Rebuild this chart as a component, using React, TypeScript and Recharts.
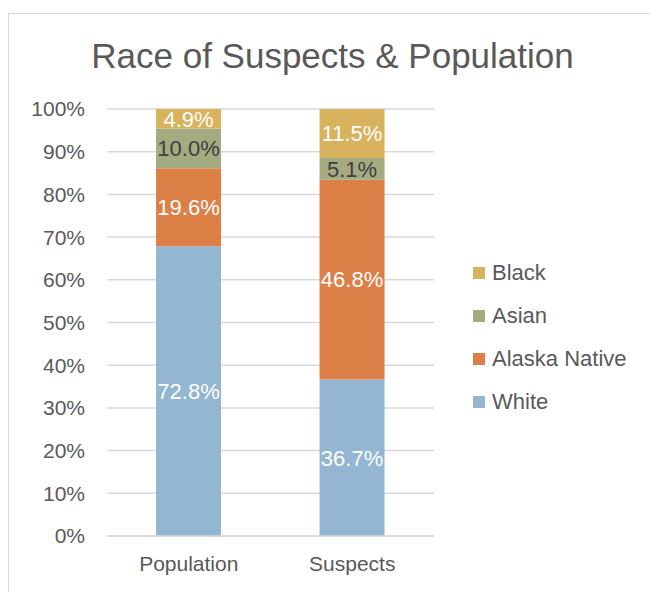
import React from 'react';
import { BarChart, Bar, XAxis, YAxis, CartesianGrid, LabelList } from 'recharts';

const categories = ['Population', 'Suspects'];
const white = [72.8, 36.7];
const alaskaNative = [19.6, 46.8];
const asian = [10.0, 5.1];
const black = [4.9, 11.5];
const yTicks = [0, 0.1, 0.2, 0.3, 0.4, 0.5, 0.6, 0.7, 0.8, 0.9, 1];

const series = [
  { key: 'white', name: 'White', color: '#94B6D2', label: '#FFFFFF' },
  { key: 'alaska', name: 'Alaska Native', color: '#DD8047', label: '#FFFFFF' },
  { key: 'asian', name: 'Asian', color: '#A5AB81', label: '#404040' },
  { key: 'black', name: 'Black', color: '#D8B25C', label: '#FFFFFF' },
];

const data = categories.map((c, i) => ({
  name: c,
  white: white[i],
  alaska: alaskaNative[i],
  asian: asian[i],
  black: black[i],
}));

const FONT = '"Liberation Sans", Arial, sans-serif';

export default function App() {
  return (
    <div style={{ position: 'absolute', left: 0, top: 0, width: 650, height: 592, overflow: 'hidden', fontFamily: FONT }}>
      <div style={{ position: 'absolute', left: 8, top: 13, width: 700, height: 700, border: '1px solid #d9d9d9', boxSizing: 'border-box' }} />
      <div style={{ position: 'absolute', left: 0, top: 34, width: 665, textAlign: 'center', fontSize: 35, color: '#595959', lineHeight: '44px' }}>
        Race of Suspects &amp; Population
      </div>
      <div style={{ position: 'absolute', left: 0, top: 0 }}>
        <BarChart width={650} height={592} data={data} stackOffset="expand" barCategoryGap="30%"
          margin={{ top: 109, right: 216, left: 0, bottom: 16 }}>
          <CartesianGrid vertical={false} stroke="#d9d9d9" strokeWidth={1.5} />
          <XAxis dataKey="name" height={40} tickLine={false} axisLine={{ stroke: '#d9d9d9', strokeWidth: 1.5 }}
            tickSize={0} tickMargin={20} tick={{ fill: '#595959', fontSize: 21, fontFamily: FONT }} />
          <YAxis width={107} domain={[0, 1]} ticks={yTicks} interval={0} axisLine={false} tickLine={false}
            tickSize={0} tickMargin={22} tickFormatter={(v: number) => `${Math.round(v * 100)}%`}
            tick={{ fill: '#595959', fontSize: 21, fontFamily: FONT }} />
          {series.map((s) => (
            <Bar key={s.key} dataKey={s.key} name={s.name} stackId="a" fill={s.color} isAnimationActive={false}>
              <LabelList dataKey={s.key} position="center" fill={s.label} fontSize={22} fontFamily={FONT}
                formatter={(v: any) => `${Number(v).toFixed(1)}%`} />
            </Bar>
          ))}
        </BarChart>
      </div>
      {[...series].reverse().map((s, i) => (
        <div key={s.key} style={{ position: 'absolute', left: 473, top: 273 + i * 43 - 13, height: 26, display: 'flex', alignItems: 'center' }}>
          <div style={{ width: 12, height: 12, background: s.color, marginRight: 7 }} />
          <span style={{ fontSize: 22, color: '#595959' }}>{s.name}</span>
        </div>
      ))}
    </div>
  );
}
